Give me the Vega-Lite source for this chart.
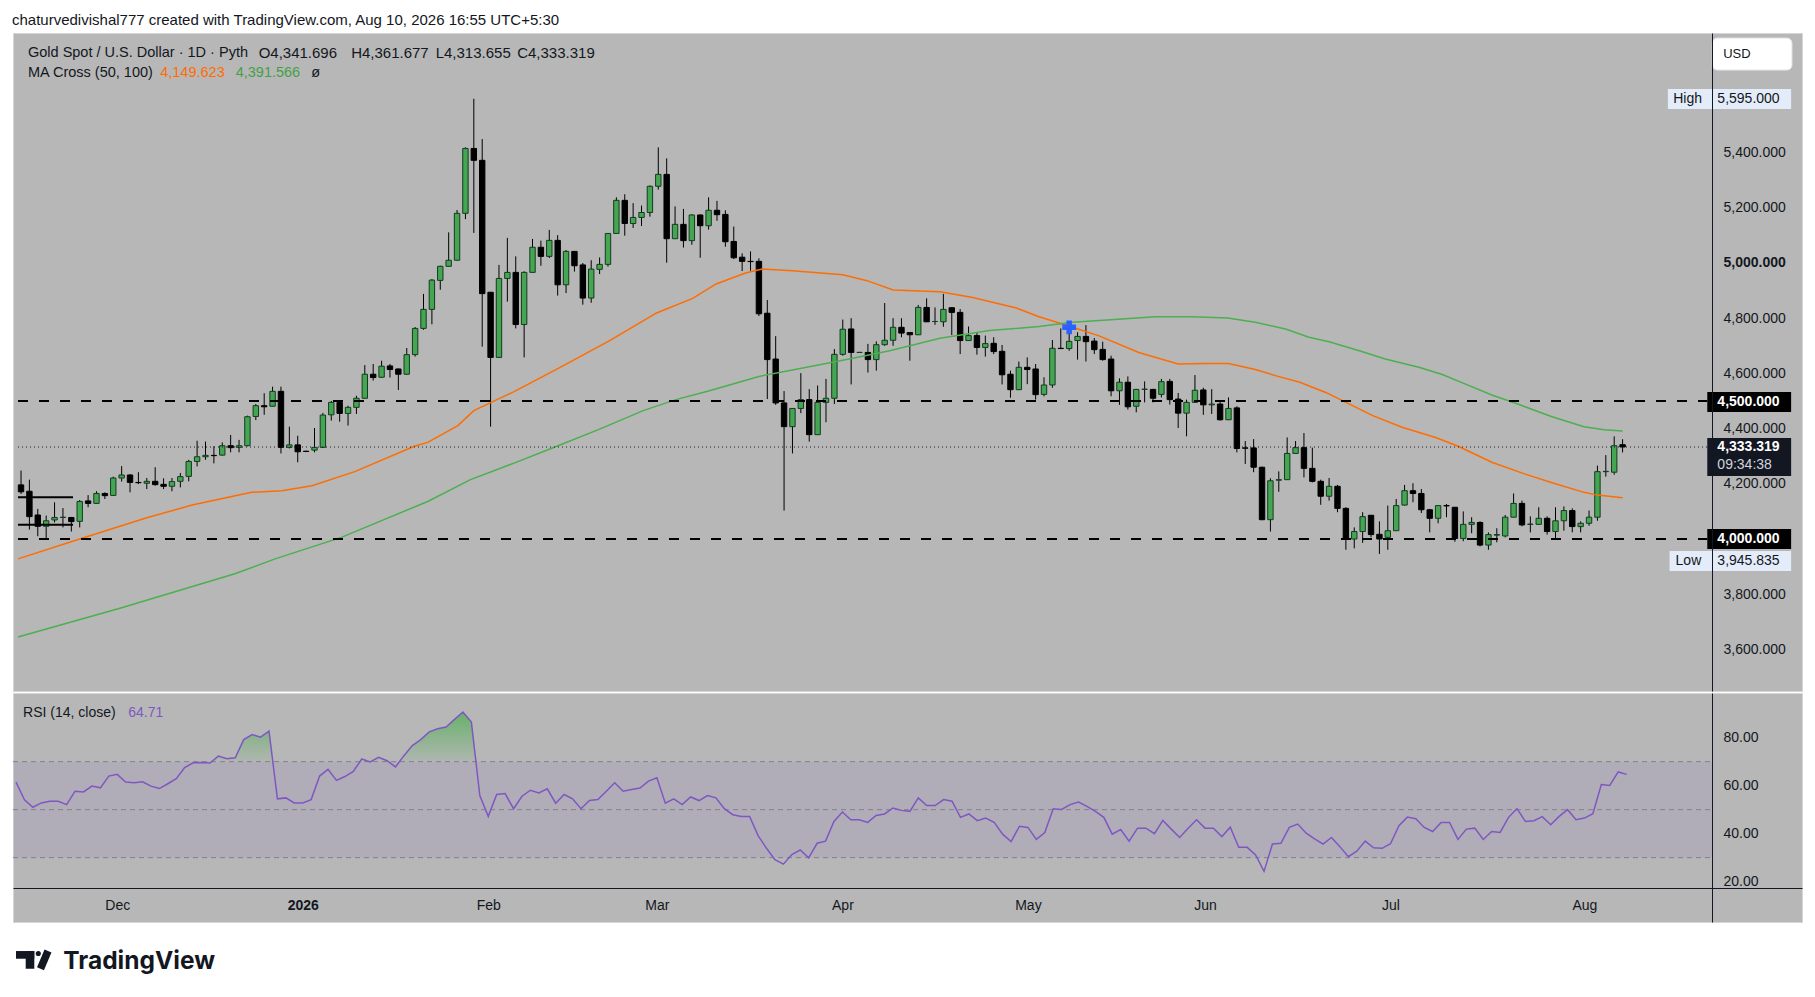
{
  "$schema": "https://vega.github.io/schema/vega-lite/v6.json",
  "background": "#ffffff",
  "padding": {"left": 11, "top": 12, "right": 13, "bottom": 0},
  "spacing": 0,
  "config": {
    "view": {"fill": "#b7b7b7", "stroke": "#d6d6d6", "strokeWidth": 1},
    "font": "Liberation Sans",
    "axis": {"grid": false, "ticks": false, "domainColor": "#131722", "labelColor": "#131722", "labelFont": "Liberation Sans", "labelFontSize": 14}
  },
  "resolve": {"scale": {"x": "independent", "y": "independent"}},
  "datasets": {
    "ohlc": [
      {"k":1,"o":4196,"h":4248,"l":4163,"c":4171,"r":61.5},
      {"k":2,"o":4173,"h":4215,"l":4034,"c":4081,"r":54.1},
      {"k":3,"o":4087,"h":4109,"l":4010,"c":4046,"r":51},
      {"k":4,"o":4046,"h":4085,"l":4002,"c":4066,"r":52.8},
      {"k":5,"o":4069,"h":4133,"l":4060,"c":4078,"r":53.5},
      {"k":6,"o":4078,"h":4112,"l":4042,"c":4079,"r":53.5},
      {"k":7,"o":4078,"h":4080,"l":4027,"c":4063,"r":52.1},
      {"k":8,"o":4064,"h":4141,"l":4042,"c":4136,"r":57.7},
      {"k":9,"o":4138,"h":4159,"l":4115,"c":4129,"r":57.4},
      {"k":10,"o":4129,"h":4173,"l":4127,"c":4165,"r":59.8},
      {"k":11,"o":4165,"h":4169,"l":4145,"c":4157,"r":59.1},
      {"k":12,"o":4158,"h":4226,"l":4157,"c":4221,"r":64},
      {"k":13,"o":4221,"h":4264,"l":4208,"c":4232,"r":64.7},
      {"k":14,"o":4232,"h":4235,"l":4169,"c":4205,"r":61.5},
      {"k":15,"o":4205,"h":4242,"l":4199,"c":4204,"r":61.2},
      {"k":16,"o":4202,"h":4221,"l":4181,"c":4209,"r":61.6},
      {"k":17,"o":4209,"h":4260,"l":4193,"c":4197,"r":59.8},
      {"k":18,"o":4198,"h":4220,"l":4181,"c":4191,"r":58.8},
      {"k":19,"o":4191,"h":4221,"l":4173,"c":4208,"r":60.8},
      {"k":20,"o":4209,"h":4239,"l":4187,"c":4226,"r":62.9},
      {"k":21,"o":4227,"h":4287,"l":4209,"c":4281,"r":67.5},
      {"k":22,"o":4281,"h":4356,"l":4263,"c":4298,"r":69.5},
      {"k":23,"o":4298,"h":4353,"l":4287,"c":4303,"r":69.6},
      {"k":24,"o":4303,"h":4336,"l":4274,"c":4302,"r":69.4},
      {"k":25,"o":4304,"h":4350,"l":4302,"c":4338,"r":72.3},
      {"k":26,"o":4338,"h":4377,"l":4314,"c":4331,"r":71.2},
      {"k":27,"o":4332,"h":4359,"l":4314,"c":4338,"r":71.6},
      {"k":28,"o":4338,"h":4447,"l":4336,"c":4443,"r":79.2},
      {"k":29,"o":4444,"h":4489,"l":4431,"c":4483,"r":81.3},
      {"k":30,"o":4483,"h":4528,"l":4450,"c":4479,"r":80.2},
      {"k":31,"o":4481,"h":4552,"l":4480,"c":4535,"r":82.7},
      {"k":32,"o":4535,"h":4552,"l":4310,"c":4332,"r":54.5},
      {"k":33,"o":4332,"h":4407,"l":4328,"c":4341,"r":54.9},
      {"k":34,"o":4341,"h":4374,"l":4278,"c":4316,"r":52.8},
      {"k":35,"o":4318,"h":4320,"l":4315,"c":4317,"r":52.8},
      {"k":36,"o":4322,"h":4402,"l":4314,"c":4332,"r":54.2},
      {"k":37,"o":4332,"h":4457,"l":4330,"c":4449,"r":64},
      {"k":38,"o":4450,"h":4500,"l":4429,"c":4495,"r":66.8},
      {"k":39,"o":4495,"h":4500,"l":4425,"c":4455,"r":62.2},
      {"k":40,"o":4455,"h":4483,"l":4411,"c":4477,"r":63.8},
      {"k":41,"o":4477,"h":4519,"l":4453,"c":4510,"r":65.9},
      {"k":42,"o":4510,"h":4630,"l":4508,"c":4597,"r":71.1},
      {"k":43,"o":4597,"h":4634,"l":4574,"c":4585,"r":69.9},
      {"k":44,"o":4586,"h":4646,"l":4584,"c":4626,"r":71.8},
      {"k":45,"o":4627,"h":4634,"l":4585,"c":4614,"r":70.4},
      {"k":46,"o":4616,"h":4618,"l":4540,"c":4597,"r":67.8},
      {"k":47,"o":4597,"h":4692,"l":4595,"c":4668,"r":72.5},
      {"k":48,"o":4668,"h":4768,"l":4661,"c":4763,"r":76.7},
      {"k":49,"o":4763,"h":4888,"l":4758,"c":4832,"r":79.2},
      {"k":50,"o":4832,"h":4942,"l":4778,"c":4938,"r":82.4},
      {"k":51,"o":4937,"h":4990,"l":4903,"c":4988,"r":83.7},
      {"k":52,"o":4988,"h":5111,"l":4987,"c":5010,"r":84.4},
      {"k":53,"o":5010,"h":5192,"l":5009,"c":5180,"r":87.6},
      {"k":54,"o":5180,"h":5419,"l":5159,"c":5415,"r":90.7},
      {"k":55,"o":5415,"h":5595,"l":5109,"c":5372,"r":86.5},
      {"k":56,"o":5372,"h":5449,"l":4697,"c":4889,"r":55.9},
      {"k":57,"o":4894,"h":4895,"l":4407,"c":4658,"r":47.2},
      {"k":58,"o":4658,"h":4993,"l":4657,"c":4944,"r":56.3},
      {"k":59,"o":4944,"h":5091,"l":4860,"c":4966,"r":56.7},
      {"k":60,"o":4966,"h":5024,"l":4763,"c":4777,"r":50.4},
      {"k":61,"o":4777,"h":4970,"l":4658,"c":4966,"r":55.6},
      {"k":62,"o":4966,"h":5087,"l":4965,"c":5057,"r":58.1},
      {"k":63,"o":5057,"h":5081,"l":4990,"c":5024,"r":57},
      {"k":64,"o":5024,"h":5120,"l":5018,"c":5082,"r":58.7},
      {"k":65,"o":5082,"h":5101,"l":4882,"c":4921,"r":52.7},
      {"k":66,"o":4921,"h":5047,"l":4891,"c":5042,"r":56.3},
      {"k":67,"o":5042,"h":5043,"l":4969,"c":4990,"r":54.5},
      {"k":68,"o":4993,"h":5000,"l":4849,"c":4873,"r":50.4},
      {"k":69,"o":4873,"h":5010,"l":4856,"c":4978,"r":53.8},
      {"k":70,"o":4977,"h":5020,"l":4960,"c":4995,"r":54.2},
      {"k":71,"o":4995,"h":5108,"l":4987,"c":5107,"r":57.7},
      {"k":72,"o":5107,"h":5238,"l":5106,"c":5227,"r":61.2},
      {"k":73,"o":5227,"h":5249,"l":5099,"c":5143,"r":57.7},
      {"k":74,"o":5143,"h":5217,"l":5127,"c":5165,"r":58.4},
      {"k":75,"o":5165,"h":5208,"l":5134,"c":5183,"r":59},
      {"k":76,"o":5183,"h":5281,"l":5168,"c":5278,"r":61.9},
      {"k":77,"o":5278,"h":5419,"l":5266,"c":5321,"r":63.3},
      {"k":78,"o":5321,"h":5379,"l":5001,"c":5088,"r":52.7},
      {"k":79,"o":5088,"h":5205,"l":5087,"c":5140,"r":54.5},
      {"k":80,"o":5140,"h":5196,"l":5056,"c":5081,"r":52.1},
      {"k":81,"o":5081,"h":5177,"l":5066,"c":5174,"r":55.3},
      {"k":82,"o":5174,"h":5176,"l":5019,"c":5135,"r":53.8},
      {"k":83,"o":5135,"h":5238,"l":5121,"c":5191,"r":55.9},
      {"k":84,"o":5191,"h":5225,"l":5153,"c":5175,"r":54.9},
      {"k":85,"o":5176,"h":5191,"l":5059,"c":5077,"r":50.4},
      {"k":86,"o":5078,"h":5132,"l":5014,"c":5019,"r":47.9},
      {"k":87,"o":5021,"h":5035,"l":4971,"c":5006,"r":47.2},
      {"k":88,"o":5006,"h":5042,"l":4972,"c":5005,"r":47.2},
      {"k":89,"o":5006,"h":5017,"l":4808,"c":4816,"r":39.2},
      {"k":90,"o":4818,"h":4866,"l":4507,"c":4650,"r":33.9},
      {"k":91,"o":4652,"h":4735,"l":4486,"c":4493,"r":29.2},
      {"k":92,"o":4493,"h":4536,"l":4103,"c":4407,"r":27.3},
      {"k":93,"o":4407,"h":4474,"l":4310,"c":4473,"r":31.3},
      {"k":94,"o":4473,"h":4601,"l":4456,"c":4505,"r":33.2},
      {"k":95,"o":4505,"h":4543,"l":4353,"c":4378,"r":29.9},
      {"k":96,"o":4378,"h":4556,"l":4377,"c":4495,"r":36},
      {"k":97,"o":4495,"h":4580,"l":4423,"c":4510,"r":36.9},
      {"k":98,"o":4510,"h":4688,"l":4489,"c":4669,"r":45.1},
      {"k":99,"o":4669,"h":4795,"l":4664,"c":4760,"r":49},
      {"k":100,"o":4761,"h":4800,"l":4560,"c":4676,"r":45.8},
      {"k":101,"o":4676,"h":4678,"l":4674,"c":4676,"r":45.8},
      {"k":102,"o":4676,"h":4707,"l":4603,"c":4650,"r":44.7},
      {"k":103,"o":4650,"h":4716,"l":4610,"c":4704,"r":47.6},
      {"k":104,"o":4704,"h":4855,"l":4700,"c":4720,"r":48.2},
      {"k":105,"o":4720,"h":4800,"l":4700,"c":4767,"r":50.7},
      {"k":106,"o":4767,"h":4800,"l":4731,"c":4746,"r":49.7},
      {"k":107,"o":4748,"h":4749,"l":4646,"c":4740,"r":49.3},
      {"k":108,"o":4740,"h":4848,"l":4739,"c":4839,"r":54.9},
      {"k":109,"o":4839,"h":4872,"l":4786,"c":4787,"r":51.7},
      {"k":110,"o":4788,"h":4839,"l":4776,"c":4788,"r":51.7},
      {"k":111,"o":4787,"h":4888,"l":4769,"c":4832,"r":54.2},
      {"k":112,"o":4838,"h":4839,"l":4739,"c":4821,"r":53.5},
      {"k":113,"o":4821,"h":4833,"l":4670,"c":4719,"r":46.8},
      {"k":114,"o":4719,"h":4770,"l":4718,"c":4737,"r":48.2},
      {"k":115,"o":4737,"h":4749,"l":4668,"c":4694,"r":45.4},
      {"k":116,"o":4694,"h":4737,"l":4661,"c":4708,"r":46.5},
      {"k":117,"o":4709,"h":4731,"l":4670,"c":4679,"r":44.7},
      {"k":118,"o":4680,"h":4703,"l":4560,"c":4595,"r":39.8},
      {"k":119,"o":4597,"h":4610,"l":4512,"c":4541,"r":36.7},
      {"k":120,"o":4541,"h":4643,"l":4540,"c":4622,"r":43.1},
      {"k":121,"o":4622,"h":4658,"l":4561,"c":4614,"r":42.6},
      {"k":122,"o":4616,"h":4634,"l":4505,"c":4523,"r":37.6},
      {"k":123,"o":4524,"h":4586,"l":4517,"c":4558,"r":40.5},
      {"k":124,"o":4558,"h":4721,"l":4548,"c":4691,"r":50.4},
      {"k":125,"o":4691,"h":4763,"l":4688,"c":4690,"r":50.1},
      {"k":126,"o":4690,"h":4751,"l":4682,"c":4716,"r":52.1},
      {"k":127,"o":4719,"h":4749,"l":4650,"c":4734,"r":53.2},
      {"k":128,"o":4734,"h":4775,"l":4643,"c":4715,"r":51.4},
      {"k":129,"o":4717,"h":4728,"l":4670,"c":4686,"r":49.3},
      {"k":130,"o":4687,"h":4715,"l":4646,"c":4650,"r":46.8},
      {"k":131,"o":4652,"h":4664,"l":4517,"c":4537,"r":39.8},
      {"k":132,"o":4537,"h":4582,"l":4486,"c":4568,"r":41.7},
      {"k":133,"o":4568,"h":4589,"l":4469,"c":4479,"r":36.9},
      {"k":134,"o":4481,"h":4544,"l":4459,"c":4542,"r":42.3},
      {"k":135,"o":4542,"h":4571,"l":4495,"c":4543,"r":42.3},
      {"k":136,"o":4542,"h":4544,"l":4495,"c":4510,"r":40},
      {"k":137,"o":4524,"h":4580,"l":4513,"c":4570,"r":45.5},
      {"k":138,"o":4571,"h":4580,"l":4487,"c":4505,"r":41.9},
      {"k":139,"o":4507,"h":4529,"l":4402,"c":4456,"r":38.4},
      {"k":140,"o":4456,"h":4505,"l":4372,"c":4495,"r":42.3},
      {"k":141,"o":4495,"h":4594,"l":4493,"c":4539,"r":45.8},
      {"k":142,"o":4540,"h":4548,"l":4450,"c":4486,"r":42.3},
      {"k":143,"o":4486,"h":4543,"l":4453,"c":4489,"r":42.3},
      {"k":144,"o":4489,"h":4500,"l":4429,"c":4432,"r":38.8},
      {"k":145,"o":4432,"h":4513,"l":4431,"c":4473,"r":42.7},
      {"k":146,"o":4475,"h":4481,"l":4314,"c":4328,"r":34.3},
      {"k":147,"o":4330,"h":4355,"l":4272,"c":4329,"r":34.3},
      {"k":148,"o":4330,"h":4362,"l":4242,"c":4260,"r":31.1},
      {"k":149,"o":4260,"h":4262,"l":4068,"c":4070,"r":24.3},
      {"k":150,"o":4070,"h":4220,"l":4027,"c":4211,"r":35.7},
      {"k":151,"o":4213,"h":4245,"l":4171,"c":4215,"r":36},
      {"k":152,"o":4215,"h":4368,"l":4214,"c":4310,"r":42.6},
      {"k":153,"o":4310,"h":4355,"l":4309,"c":4331,"r":44},
      {"k":154,"o":4331,"h":4384,"l":4223,"c":4256,"r":40.2},
      {"k":155,"o":4256,"h":4331,"l":4205,"c":4209,"r":37.8},
      {"k":156,"o":4209,"h":4215,"l":4124,"c":4155,"r":35.7},
      {"k":157,"o":4155,"h":4221,"l":4139,"c":4191,"r":38.4},
      {"k":158,"o":4191,"h":4196,"l":4097,"c":4111,"r":34.6},
      {"k":159,"o":4111,"h":4115,"l":3961,"c":4000,"r":30.4},
      {"k":160,"o":4000,"h":4042,"l":3966,"c":4027,"r":32.7},
      {"k":161,"o":4027,"h":4097,"l":3986,"c":4081,"r":36.9},
      {"k":162,"o":4086,"h":4086,"l":4006,"c":4016,"r":34.1},
      {"k":163,"o":4017,"h":4064,"l":3945.835,"c":4000,"r":33.9},
      {"k":164,"o":4006,"h":4121,"l":3961,"c":4030,"r":35.8},
      {"k":165,"o":4030,"h":4145,"l":4029,"c":4121,"r":43.3},
      {"k":166,"o":4123,"h":4196,"l":4121,"c":4175,"r":46.9},
      {"k":167,"o":4175,"h":4202,"l":4133,"c":4165,"r":46.2},
      {"k":168,"o":4165,"h":4181,"l":4094,"c":4106,"r":42.6},
      {"k":169,"o":4106,"h":4109,"l":4024,"c":4075,"r":40.9},
      {"k":170,"o":4075,"h":4123,"l":4057,"c":4121,"r":44.7},
      {"k":171,"o":4121,"h":4127,"l":4079,"c":4120,"r":44.7},
      {"k":172,"o":4115,"h":4116,"l":3990,"c":4002,"r":37.6},
      {"k":173,"o":4002,"h":4100,"l":3992,"c":4053,"r":41.9},
      {"k":174,"o":4053,"h":4079,"l":4021,"c":4060,"r":42.3},
      {"k":175,"o":4060,"h":4064,"l":3973,"c":3978,"r":37.6},
      {"k":176,"o":3978,"h":4024,"l":3961,"c":4016,"r":40.9},
      {"k":177,"o":4014,"h":4039,"l":3988,"c":4016,"r":40.5},
      {"k":178,"o":4011,"h":4087,"l":4006,"c":4079,"r":46.8},
      {"k":179,"o":4079,"h":4165,"l":4078,"c":4129,"r":50.4},
      {"k":180,"o":4129,"h":4139,"l":4046,"c":4051,"r":45.1},
      {"k":181,"o":4053,"h":4082,"l":4024,"c":4054,"r":45.4},
      {"k":182,"o":4053,"h":4115,"l":4052,"c":4075,"r":47.1},
      {"k":183,"o":4075,"h":4082,"l":4016,"c":4027,"r":43.7},
      {"k":184,"o":4027,"h":4115,"l":4002,"c":4066,"r":47.2},
      {"k":185,"o":4066,"h":4118,"l":4030,"c":4103,"r":50},
      {"k":186,"o":4103,"h":4111,"l":4024,"c":4045,"r":45.8},
      {"k":187,"o":4045,"h":4064,"l":4024,"c":4057,"r":46.5},
      {"k":188,"o":4057,"h":4103,"l":4048,"c":4079,"r":48.3},
      {"k":189,"o":4079,"h":4266,"l":4066,"c":4244,"r":60.5},
      {"k":190,"o":4244,"h":4304,"l":4226,"c":4245,"r":60.1},
      {"k":191,"o":4242,"h":4372,"l":4233,"c":4338,"r":65.7},
      {"k":192,"o":4341.696,"h":4361.677,"l":4313.655,"c":4333.319,"r":64.71}
    ],
    "ma": [
      {"k":0.64,"v":3928,"s":"MA50"},{"k":8,"v":4000,"s":"MA50"},{"k":15.9,"v":4076,"s":"MA50"},{"k":21.4,"v":4123,"s":"MA50"},
      {"k":28.5,"v":4169,"s":"MA50"},{"k":32.1,"v":4175,"s":"MA50"},{"k":35.7,"v":4193,"s":"MA50"},{"k":40.8,"v":4244,"s":"MA50"},
      {"k":47.9,"v":4336,"s":"MA50"},{"k":49.5,"v":4350,"s":"MA50"},{"k":53.1,"v":4411,"s":"MA50"},{"k":55,"v":4465,"s":"MA50"},
      {"k":59.8,"v":4534,"s":"MA50"},{"k":65.3,"v":4622,"s":"MA50"},{"k":71.2,"v":4719,"s":"MA50"},{"k":76.8,"v":4819,"s":"MA50"},
      {"k":81.1,"v":4872,"s":"MA50"},{"k":83.9,"v":4924,"s":"MA50"},{"k":87.4,"v":4964,"s":"MA50"},{"k":89.4,"v":4978,"s":"MA50"},
      {"k":93,"v":4972,"s":"MA50"},{"k":99,"v":4957,"s":"MA50"},{"k":101.9,"v":4936,"s":"MA50"},{"k":105,"v":4902,"s":"MA50"},
      {"k":110.6,"v":4896,"s":"MA50"},{"k":114.5,"v":4875,"s":"MA50"},{"k":119.7,"v":4837,"s":"MA50"},{"k":122.4,"v":4805,"s":"MA50"},
      {"k":125.2,"v":4779,"s":"MA50"},{"k":129.5,"v":4737,"s":"MA50"},{"k":134.3,"v":4676,"s":"MA50"},{"k":139,"v":4634,"s":"MA50"},
      {"k":142.2,"v":4636,"s":"MA50"},{"k":145,"v":4636,"s":"MA50"},{"k":148.2,"v":4614,"s":"MA50"},{"k":150.7,"v":4591,"s":"MA50"},
      {"k":153.5,"v":4568,"s":"MA50"},{"k":156.6,"v":4531,"s":"MA50"},{"k":159.8,"v":4483,"s":"MA50"},{"k":162.2,"v":4447,"s":"MA50"},
      {"k":165.7,"v":4405,"s":"MA50"},{"k":169.7,"v":4368,"s":"MA50"},{"k":172.4,"v":4336,"s":"MA50"},{"k":176.4,"v":4278,"s":"MA50"},
      {"k":180.3,"v":4236,"s":"MA50"},{"k":183.5,"v":4205,"s":"MA50"},{"k":187.4,"v":4169,"s":"MA50"},{"k":189,"v":4159,"s":"MA50"},
      {"k":192,"v":4149.623,"s":"MA50"},
      {"k":0.64,"v":3645,"s":"MA100"},{"k":12.9,"v":3750,"s":"MA100"},{"k":26.6,"v":3875,"s":"MA100"},{"k":31.3,"v":3928,"s":"MA100"},
      {"k":39.2,"v":4006,"s":"MA100"},{"k":49.5,"v":4136,"s":"MA100"},{"k":54.6,"v":4215,"s":"MA100"},{"k":59.8,"v":4275,"s":"MA100"},
      {"k":64.9,"v":4336,"s":"MA100"},{"k":70,"v":4398,"s":"MA100"},{"k":75.2,"v":4465,"s":"MA100"},{"k":79.1,"v":4505,"s":"MA100"},
      {"k":83.1,"v":4537,"s":"MA100"},{"k":89,"v":4589,"s":"MA100"},{"k":93,"v":4612,"s":"MA100"},{"k":99,"v":4648,"s":"MA100"},
      {"k":104.6,"v":4682,"s":"MA100"},{"k":110.6,"v":4727,"s":"MA100"},{"k":116.5,"v":4755,"s":"MA100"},{"k":122.4,"v":4770,"s":"MA100"},
      {"k":126.4,"v":4785,"s":"MA100"},{"k":132.3,"v":4797,"s":"MA100"},{"k":136.2,"v":4805,"s":"MA100"},{"k":140.6,"v":4805,"s":"MA100"},
      {"k":144.9,"v":4801,"s":"MA100"},{"k":148.2,"v":4785,"s":"MA100"},{"k":151.9,"v":4760,"s":"MA100"},{"k":154.6,"v":4731,"s":"MA100"},
      {"k":157,"v":4715,"s":"MA100"},{"k":160.6,"v":4682,"s":"MA100"},{"k":163.7,"v":4652,"s":"MA100"},{"k":167.7,"v":4622,"s":"MA100"},
      {"k":170.5,"v":4596,"s":"MA100"},{"k":173.2,"v":4562,"s":"MA100"},{"k":176.4,"v":4522,"s":"MA100"},{"k":179.5,"v":4489,"s":"MA100"},
      {"k":183.5,"v":4444,"s":"MA100"},{"k":187.4,"v":4407,"s":"MA100"},{"k":189.8,"v":4396,"s":"MA100"},{"k":192,"v":4391.566,"s":"MA100"}
    ],
    "levels": [{"p": 4500}, {"p": 4000}],
    "drawn": [{"p": 4151}, {"p": 4052}],
    "signal": [{"k": 126, "p": 4767}],
    "rsilevels": [{"lv": 70}, {"lv": 50}, {"lv": 30}]
  },
  "vconcat": [
    {
      "width": 1789,
      "height": 658,
      "title": {"text": "chaturvedivishal777 created with TradingView.com, Aug 10, 2026 16:55 UTC+5:30", "anchor": "start", "fontSize": 15, "fontWeight": "normal", "font": "Liberation Sans", "color": "#131722", "offset": 5, "dx": -1},
      "data": {"name": "ohlc"},
      "layer": [
        {
          "mark": {"type": "rule", "color": "#000000", "strokeWidth": 1},
          "encoding": {
            "x": {"field": "k", "type": "quantitative", "scale": {"domain": [0.64, 212.8], "nice": false, "zero": false}, "axis": null},
            "y": {"field": "l", "type": "quantitative", "scale": {"domain": [3449.3, 5833.3], "nice": false, "zero": false},
              "axis": {"orient": "right", "offset": -90, "values": [3600, 3800, 4200, 4400, 4600, 4800, 5000, 5200, 5400], "format": ",.3f", "title": null, "labelPadding": 11, "labelAlign": "left", "labelFontSize": 14, "labelColor": "#131722", "labelFontWeight": {"condition": {"test": "datum.value == 5000", "value": "bold"}, "value": "normal"}, "domainColor": "#131722", "domainWidth": 1, "ticks": false, "grid": false, "zindex": 1, "labelFlush": false, "labelOverlap": false, "labelBound": false}},
            "y2": {"field": "h"}
          }
        },
        {
          "mark": {"type": "bar", "width": 5.4, "strokeWidth": 1},
          "encoding": {
            "x": {"field": "k", "type": "quantitative", "axis": null},
            "y": {"field": "o", "type": "quantitative"},
            "y2": {"field": "c"},
            "fill": {"condition": {"test": "datum.c >= datum.o", "value": "#45a552"}, "value": "#000000"},
            "stroke": {"condition": {"test": "datum.c >= datum.o", "value": "#123d1f"}, "value": "#000000"}
          }
        },
        {
          "data": {"name": "ma"},
          "mark": {"type": "line", "strokeWidth": 1.5},
          "encoding": {
            "x": {"field": "k", "type": "quantitative", "axis": null},
            "y": {"field": "v", "type": "quantitative"},
            "color": {"field": "s", "type": "nominal", "scale": {"domain": ["MA50", "MA100"], "range": ["#ff6d00", "#4caf50"]}, "legend": null}
          }
        },
        {
          "data": {"name": "levels"},
          "mark": {"type": "rule", "color": "#000000", "strokeWidth": 2, "strokeDash": [10, 11]},
          "encoding": {
            "x": {"datum": 0.64, "axis": null},
            "x2": {"datum": 202.1},
            "y": {"field": "p", "type": "quantitative"}
          }
        },
        {
          "data": {"name": "drawn"},
          "mark": {"type": "rule", "color": "#000000", "strokeWidth": 2},
          "encoding": {
            "x": {"datum": 0.64, "axis": null},
            "x2": {"datum": 7.2},
            "y": {"field": "p", "type": "quantitative"}
          }
        },
        {
          "data": {"values": [{}]},
          "mark": {"type": "rule", "color": "#131722", "strokeWidth": 1, "strokeDash": [1, 3]},
          "encoding": {
            "x": {"datum": 0.64, "axis": null},
            "x2": {"datum": 202.1},
            "y": {"datum": 4333.319}
          }
        },
        {
          "data": {"name": "signal"},
          "mark": {"type": "point", "shape": "cross", "filled": true, "size": 190, "color": "#2962ff", "opacity": 1},
          "encoding": {
            "x": {"field": "k", "type": "quantitative", "axis": null},
            "y": {"field": "p", "type": "quantitative"}
          }
        },
        {
          "data": {"values": [{}]},
          "mark": {"type": "text", "align": "left", "baseline": "middle", "fontSize": 14.5, "color": "#131722", "text": "Gold Spot / U.S. Dollar · 1D · Pyth"},
          "encoding": {"x": {"datum": 1.83, "axis": null}, "y": {"datum": 5762}}
        },
        {
          "data": {"values": [{}]},
          "mark": {"type": "text", "align": "left", "baseline": "middle", "fontSize": 15, "color": "#131722", "text": "O4,341.696"},
          "encoding": {"x": {"datum": 29.34, "axis": null}, "y": {"datum": 5762}}
        },
        {
          "data": {"values": [{}]},
          "mark": {"type": "text", "align": "left", "baseline": "middle", "fontSize": 15, "color": "#131722", "text": "H4,361.677"},
          "encoding": {"x": {"datum": 40.37, "axis": null}, "y": {"datum": 5762}}
        },
        {
          "data": {"values": [{}]},
          "mark": {"type": "text", "align": "left", "baseline": "middle", "fontSize": 15, "color": "#131722", "text": "L4,313.655"},
          "encoding": {"x": {"datum": 50.45, "axis": null}, "y": {"datum": 5762}}
        },
        {
          "data": {"values": [{}]},
          "mark": {"type": "text", "align": "left", "baseline": "middle", "fontSize": 15, "color": "#131722", "text": "C4,333.319"},
          "encoding": {"x": {"datum": 60.17, "axis": null}, "y": {"datum": 5762}}
        },
        {
          "data": {"values": [{}]},
          "mark": {"type": "text", "align": "left", "baseline": "middle", "fontSize": 14.5, "color": "#131722", "text": "MA Cross (50, 100)"},
          "encoding": {"x": {"datum": 1.83, "axis": null}, "y": {"datum": 5687}}
        },
        {
          "data": {"values": [{}]},
          "mark": {"type": "text", "align": "left", "baseline": "middle", "fontSize": 14.5, "color": "#ff6d00", "text": "4,149.623"},
          "encoding": {"x": {"datum": 17.6, "axis": null}, "y": {"datum": 5687}}
        },
        {
          "data": {"values": [{}]},
          "mark": {"type": "text", "align": "left", "baseline": "middle", "fontSize": 14.5, "color": "#43a047", "text": "4,391.566"},
          "encoding": {"x": {"datum": 26.6, "axis": null}, "y": {"datum": 5687}}
        },
        {
          "data": {"values": [{}]},
          "mark": {"type": "text", "align": "left", "baseline": "middle", "fontSize": 14.5, "color": "#131722", "text": "ø"},
          "encoding": {"x": {"datum": 35.6, "axis": null}, "y": {"datum": 5687}}
        },
        {
          "data": {"values": [{}]},
          "mark": {"type": "rect", "fill": "#ffffff", "stroke": "#e0e3eb", "cornerRadius": 5},
          "encoding": {"x": {"datum": 202.7, "axis": null}, "x2": {"datum": 212.2}, "y": {"datum": 5815}, "y2": {"datum": 5699}}
        },
        {
          "data": {"values": [{}]},
          "mark": {"type": "text", "align": "left", "baseline": "middle", "fontSize": 13, "color": "#131722", "text": "USD"},
          "encoding": {"x": {"datum": 204.0, "axis": null}, "y": {"datum": 5757}}
        },
        {
          "data": {"values": [{}]},
          "mark": {"type": "rect", "fill": "#e3ecf8"},
          "encoding": {"x": {"datum": 197.4, "axis": null}, "x2": {"datum": 212.1}, "y": {"datum": 5630}, "y2": {"datum": 5558}}
        },
        {
          "data": {"values": [{}]},
          "mark": {"type": "rect", "fill": "#e3ecf8"},
          "encoding": {"x": {"datum": 197.6, "axis": null}, "x2": {"datum": 212.1}, "y": {"datum": 3956.5}, "y2": {"datum": 3884}}
        },
        {
          "data": {"values": [{}]},
          "mark": {"type": "rect", "fill": "#000000"},
          "encoding": {"x": {"datum": 202.1, "axis": null}, "x2": {"datum": 212.1}, "y": {"datum": 4532.6}, "y2": {"datum": 4460.1}}
        },
        {
          "data": {"values": [{}]},
          "mark": {"type": "rect", "fill": "#000000"},
          "encoding": {"x": {"datum": 202.1, "axis": null}, "x2": {"datum": 212.1}, "y": {"datum": 4036}, "y2": {"datum": 3964}}
        },
        {
          "data": {"values": [{}]},
          "mark": {"type": "rect", "fill": "#131722"},
          "encoding": {"x": {"datum": 202.1, "axis": null}, "x2": {"datum": 212.1}, "y": {"datum": 4366}, "y2": {"datum": 4228}}
        },
        {
          "data": {"values": [{}]},
          "mark": {"type": "text", "align": "center", "baseline": "middle", "fontSize": 14, "color": "#131722", "text": "High"},
          "encoding": {"x": {"datum": 199.75, "axis": null}, "y": {"datum": 5594}}
        },
        {
          "data": {"values": [{}]},
          "mark": {"type": "text", "align": "left", "baseline": "middle", "fontSize": 14, "color": "#131722", "text": "5,595.000"},
          "encoding": {"x": {"datum": 203.3, "axis": null}, "y": {"datum": 5594}}
        },
        {
          "data": {"values": [{}]},
          "mark": {"type": "text", "align": "center", "baseline": "middle", "fontSize": 14, "color": "#131722", "text": "Low"},
          "encoding": {"x": {"datum": 199.85, "axis": null}, "y": {"datum": 3920}}
        },
        {
          "data": {"values": [{}]},
          "mark": {"type": "text", "align": "left", "baseline": "middle", "fontSize": 14, "color": "#131722", "text": "3,945.835"},
          "encoding": {"x": {"datum": 203.3, "axis": null}, "y": {"datum": 3920}}
        },
        {
          "data": {"values": [{}]},
          "mark": {"type": "text", "align": "left", "baseline": "middle", "fontSize": 14, "fontWeight": "bold", "color": "#ffffff", "text": "4,500.000"},
          "encoding": {"x": {"datum": 203.3, "axis": null}, "y": {"datum": 4497}}
        },
        {
          "data": {"values": [{}]},
          "mark": {"type": "text", "align": "left", "baseline": "middle", "fontSize": 14, "fontWeight": "bold", "color": "#ffffff", "text": "4,000.000"},
          "encoding": {"x": {"datum": 203.3, "axis": null}, "y": {"datum": 4000}}
        },
        {
          "data": {"values": [{}]},
          "mark": {"type": "text", "align": "left", "baseline": "middle", "fontSize": 14, "fontWeight": "bold", "color": "#ffffff", "text": "4,333.319"},
          "encoding": {"x": {"datum": 203.3, "axis": null}, "y": {"datum": 4333.3}}
        },
        {
          "data": {"values": [{}]},
          "mark": {"type": "text", "align": "left", "baseline": "middle", "fontSize": 14, "color": "#d1d4dc", "text": "09:34:38"},
          "encoding": {"x": {"datum": 203.3, "axis": null}, "y": {"datum": 4268}}
        }
      ]
    },
    {
      "width": 1789,
      "height": 229,
      "data": {"name": "ohlc"},
      "layer": [
        {
          "data": {"values": [{}]},
          "mark": {"type": "rect", "fill": "rgba(126,87,194,0.1)"},
          "encoding": {"x": {"datum": 0.64}, "x2": {"datum": 202.1}, "y": {"datum": 30}, "y2": {"datum": 70}}
        },
        {
          "data": {"name": "rsilevels"},
          "mark": {"type": "rule", "color": "#80808c", "strokeWidth": 1, "strokeDash": [5, 4]},
          "encoding": {"x": {"datum": 0.64}, "x2": {"datum": 202.1}, "y": {"field": "lv", "type": "quantitative"}}
        },
        {
          "mark": {"type": "area", "fill": {"gradient": "linear", "x1": 0, "y1": 0, "x2": 0, "y2": 1, "stops": [{"offset": 0, "color": "rgba(76,175,80,0.75)"}, {"offset": 0.305, "color": "rgba(76,175,80,0.08)"}, {"offset": 0.312, "color": "rgba(76,175,80,0)"}, {"offset": 1, "color": "rgba(76,175,80,0)"}]}},
          "encoding": {"x": {"field": "k", "type": "quantitative"}, "y": {"field": "r", "type": "quantitative"}, "y2": {"datum": 70}}
        },
        {
          "mark": {"type": "line", "color": "#7e57c2", "strokeWidth": 1.5},
          "encoding": {
            "x": {"field": "k", "type": "quantitative", "scale": {"domain": [0.64, 212.8], "nice": false, "zero": false},
              "axis": {"orient": "bottom", "offset": -34, "values": [13, 35, 57, 77, 99, 121, 142, 164, 187], "labelExpr": "datum.value == 13 ? 'Dec' : datum.value == 35 ? '2026' : datum.value == 57 ? 'Feb' : datum.value == 77 ? 'Mar' : datum.value == 99 ? 'Apr' : datum.value == 121 ? 'May' : datum.value == 142 ? 'Jun' : datum.value == 164 ? 'Jul' : 'Aug'", "title": null, "labelPadding": 10, "labelFontSize": 14, "labelColor": "#131722", "labelFontWeight": {"condition": {"test": "datum.value == 35", "value": "bold"}, "value": "normal"}, "domainColor": "#131722", "ticks": false, "grid": false, "zindex": 1, "labelFlush": false, "labelOverlap": false}},
            "y": {"field": "r", "type": "quantitative", "scale": {"domain": [3.2, 98.6], "nice": false, "zero": false},
              "axis": {"orient": "right", "offset": -90, "values": [20, 40, 60, 80], "format": ".2f", "title": null, "labelPadding": 11, "labelAlign": "left", "labelFontSize": 14, "labelColor": "#131722", "domainColor": "#131722", "ticks": false, "grid": false, "zindex": 1, "labelFlush": false, "labelOverlap": false, "labelBound": false}}
          }
        },
        {
          "data": {"values": [{}]},
          "mark": {"type": "text", "align": "left", "baseline": "middle", "fontSize": 14, "color": "#131722", "text": "RSI (14, close)"},
          "encoding": {"x": {"datum": 1.83}, "y": {"datum": 90.3}}
        },
        {
          "data": {"values": [{}]},
          "mark": {"type": "text", "align": "left", "baseline": "middle", "fontSize": 14, "color": "#7e57c2", "text": "64.71"},
          "encoding": {"x": {"datum": 14.3}, "y": {"datum": 90.3}}
        },
        {
          "data": {"values": [{}]},
          "mark": {"type": "rect", "fill": "#131722"},
          "encoding": {"x": {"datum": 0.996}, "x2": {"datum": 3.166}, "y": {"datum": -8.9}, "y2": {"datum": -12.1}}
        },
        {
          "data": {"values": [{}]},
          "mark": {"type": "rect", "fill": "#131722"},
          "encoding": {"x": {"datum": 2.146}, "x2": {"datum": 3.166}, "y": {"datum": -8.9}, "y2": {"datum": -16.27}}
        },
        {
          "data": {"values": [{}]},
          "mark": {"type": "point", "shape": "circle", "filled": true, "size": 26, "color": "#131722", "opacity": 1},
          "encoding": {"x": {"datum": 3.64}, "y": {"datum": -9.94}}
        },
        {
          "data": {"values": [{}]},
          "mark": {"type": "rule", "color": "#131722", "strokeWidth": 7.5, "strokeCap": "butt"},
          "encoding": {"x": {"datum": 4.79}, "y": {"datum": -8.9}, "x2": {"datum": 3.9}, "y2": {"datum": -16.27}}
        },
        {
          "data": {"values": [{}]},
          "mark": {"type": "text", "align": "left", "baseline": "alphabetic", "fontSize": 24.5, "fontWeight": "bold", "font": "Inter", "color": "#131722", "text": "TradingView"},
          "encoding": {"x": {"datum": 6.61}, "y": {"datum": -16.27}}
        }
      ]
    }
  ]
}
